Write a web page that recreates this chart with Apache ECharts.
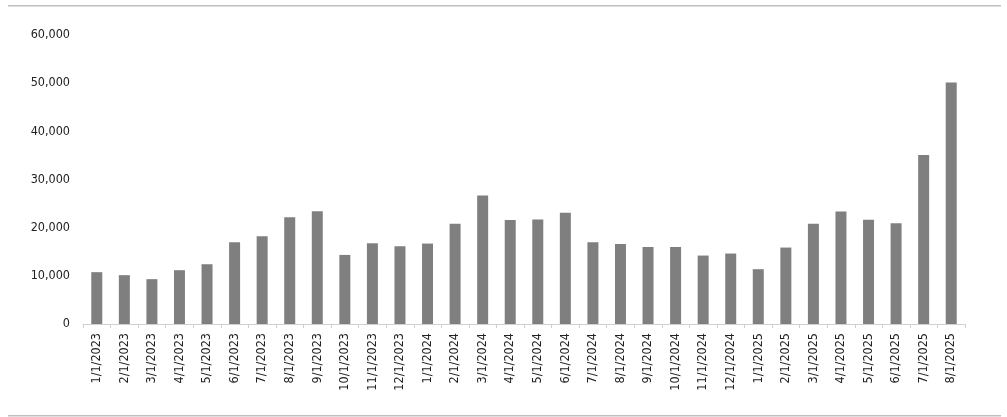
<!DOCTYPE html>
<html>
<head>
<meta charset="utf-8">
<script src="https://cdn.jsdelivr.net/npm/echarts@6/dist/echarts.min.js"></script>
<style>
  html, body { margin: 0; padding: 0; background: #fff; }
  #chart { width: 1007px; height: 417px; }
</style>
</head>
<body>
<div id="chart"></div>
<script>
// months shown on the x axis
const months = [
  '1/1/2023', '2/1/2023', '3/1/2023', '4/1/2023', '5/1/2023', '6/1/2023',
  '7/1/2023', '8/1/2023', '9/1/2023', '10/1/2023', '11/1/2023', '12/1/2023',
  '1/1/2024', '2/1/2024', '3/1/2024', '4/1/2024', '5/1/2024', '6/1/2024',
  '7/1/2024', '8/1/2024', '9/1/2024', '10/1/2024', '11/1/2024', '12/1/2024',
  '1/1/2025', '2/1/2025', '3/1/2025', '4/1/2025', '5/1/2025', '6/1/2025',
  '7/1/2025', '8/1/2025'
];
// bar heights
const values = [
  10760, 10140, 9310, 11170, 12410, 16970, 18210, 22140, 23400,
  14340, 16760, 16140, 16700, 20830, 26690, 21580, 21720, 23110,
  16970, 16610, 15990, 15990, 14210, 14630, 11380, 15870, 20830,
  23380, 21660, 20900, 35110, 50130
];
// y axis range
const yMin = 0;
const yMax = 60000;
const yStep = 10000;

const font = '"DejaVu Sans Condensed", "Liberation Sans Narrow", sans-serif';

const chart = echarts.init(document.getElementById('chart'));

chart.setOption({
  animation: false,
  textStyle: { fontFamily: font },
  grid: { left: 83, right: 42, top: 35, bottom: 93, containLabel: false },
  // the two grey rules above and below the chart
  graphic: [
    {
      type: 'rect',
      z: 100,
      shape: { x: 8, y: 5, width: 993, height: 1.5 },
      style: { fill: '#c0c0c0' }
    },
    {
      type: 'rect',
      z: 100,
      shape: { x: 8, y: 415, width: 993, height: 1.5 },
      style: { fill: '#c0c0c0' }
    }
  ],
  xAxis: {
    type: 'category',
    data: months,
    boundaryGap: true,
    axisLine: { lineStyle: { color: '#d0d0d0', width: 1 } },
    axisTick: { show: true, alignWithLabel: false, length: 4, lineStyle: { color: '#d0d0d0' } },
    axisLabel: {
      rotate: 90,
      interval: 0,
      margin: 9,
      color: '#222',
      fontSize: 12.5,
      fontFamily: font
    }
  },
  yAxis: {
    type: 'value',
    min: yMin,
    max: yMax,
    interval: yStep,
    axisLine: { show: false },
    axisTick: { show: false },
    splitLine: { show: false },
    axisLabel: {
      margin: 13,
      color: '#222',
      fontSize: 12.5,
      fontFamily: font,
      formatter: function (v) { return v.toLocaleString('en-US'); }
    }
  },
  series: [
    {
      type: 'bar',
      data: values,
      barWidth: 11,
      itemStyle: { color: '#7f7f7f' }
    }
  ]
});
</script>
</body>
</html>
